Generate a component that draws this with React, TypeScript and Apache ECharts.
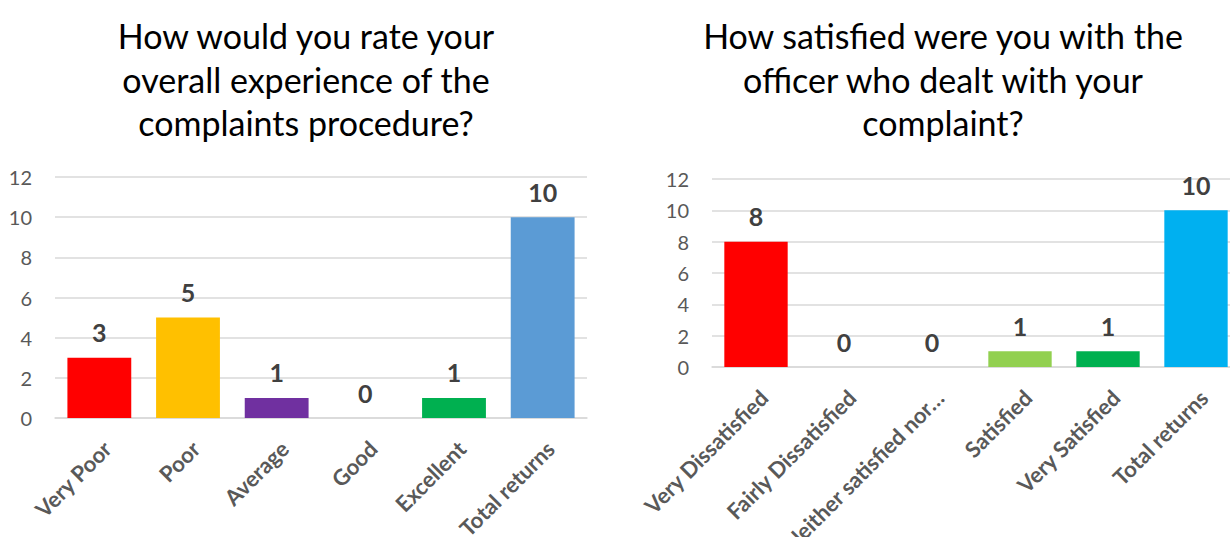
import React, { useEffect, useRef } from "react";
import * as echarts from "echarts";

const leftTitle = "How would you rate your\noverall experience of the\ncomplaints procedure?";
const rightTitle = "How satisfied were you with the\nofficer who dealt with your\ncomplaint?";

const leftCategories = ["Very Poor", "Poor", "Average", "Good", "Excellent", "Total returns"];
const leftValues = [3, 5, 1, 0, 1, 10];
const leftColors = ["#FF0000", "#FFC000", "#7030A0", "#92D050", "#00B050", "#5B9BD5"];

const rightCategories = [
  "Very Dissatisfied",
  "Fairly Dissatisfied",
  "Neither satisfied nor dissatisfied",
  "Satisfied",
  "Very Satisfied",
  "Total returns",
];
const rightValues = [8, 0, 0, 1, 1, 10];
const rightColors = ["#FF0000", "#C00000", "#FFC000", "#92D050", "#00B050", "#00B0F0"];

const yTicks = { min: 0, max: 12, interval: 2 };

const FONT = "Lato";
const GRID_COLOR = "#D9D9D9";
const AXIS_TEXT = "#595959";
const LABEL_TEXT = "#404040";

function truncate(s: string): string {
  return s.length > 22 ? s.slice(0, 21) + "…" : s;
}

export default function App() {
  const ref = useRef<HTMLDivElement>(null);
  useEffect(() => {
    if (!ref.current) return;
    const chart = echarts.init(ref.current, undefined, { renderer: "svg" });
    const yAxisBase = (gridIndex: number) => ({
      type: "value",
      gridIndex,
      min: yTicks.min,
      max: yTicks.max,
      interval: yTicks.interval,
      axisLine: { show: false },
      axisTick: { show: false },
      axisLabel: { color: AXIS_TEXT, fontFamily: FONT, fontSize: 20, margin: 23 },
      splitLine: { lineStyle: { color: GRID_COLOR, width: 1.5 } },
    });
    const xAxisBase = (gridIndex: number, cats: string[]) => ({
      type: "category",
      gridIndex,
      data: cats,
      axisLine: { lineStyle: { color: GRID_COLOR, width: 1.5 } },
      axisTick: { show: false },
      axisLabel: {
        color: AXIS_TEXT,
        fontFamily: FONT,
        fontSize: 22,
        fontWeight: "bold",
        rotate: 45,
        align: "right",
        verticalAlign: "top",
        margin: 19,
        interval: 0,
        formatter: (v: string) => truncate(v),
      },
    });
    const barSeries = (idx: number, vals: number[], colors: string[]) => ({
      type: "bar",
      xAxisIndex: idx,
      yAxisIndex: idx,
      barCategoryGap: "28%",
      data: vals.map((v, i) => ({ value: v, itemStyle: { color: colors[i] } })),
      label: {
        show: true,
        position: "top",
        distance: 13,
        color: LABEL_TEXT,
        fontFamily: FONT,
        fontWeight: "bold",
        fontSize: 25,
      },
    });
    chart.setOption({
      animation: false,
      backgroundColor: "#FFFFFF",
      graphic: [
        {
          type: "text",
          x: 306,
          y: 14,
          style: {
            text: leftTitle,
            fill: "#000000",
            font: `34px ${FONT}`,
            align: "center",
            verticalAlign: "top",
            lineHeight: 43.5,
          },
        },
        {
          type: "text",
          x: 943,
          y: 14,
          style: {
            text: rightTitle,
            fill: "#000000",
            font: `34px ${FONT}`,
            align: "center",
            verticalAlign: "top",
            lineHeight: 43.5,
          },
        },
      ],
      grid: [
        { left: 55, top: 177, width: 532, height: 241, containLabel: false, outerBoundsMode: "none" },
        { left: 712, top: 179, width: 528, height: 188, containLabel: false, outerBoundsMode: "none" },
      ],
      xAxis: [xAxisBase(0, leftCategories), xAxisBase(1, rightCategories)],
      yAxis: [yAxisBase(0), yAxisBase(1)],
      series: [barSeries(0, leftValues, leftColors), barSeries(1, rightValues, rightColors)],
    });
    return () => chart.dispose();
  }, []);
  return (
    <div
      style={{
        position: "fixed",
        left: 0,
        top: 0,
        width: 1230,
        height: 537,
        overflow: "hidden",
        background: "#fff",
      }}
    >
      <div ref={ref} style={{ width: 1230, height: 537 }} />
    </div>
  );
}
